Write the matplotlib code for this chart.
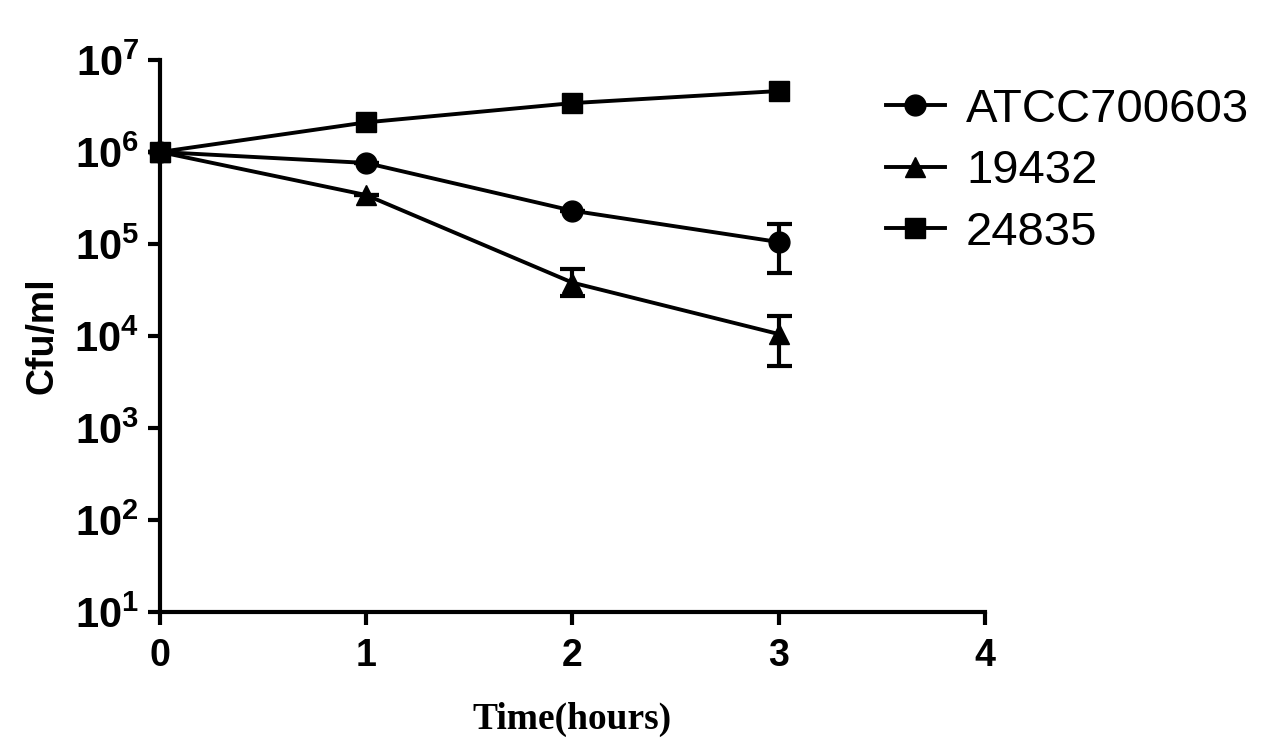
import math
import matplotlib
matplotlib.use('Agg')
import matplotlib.pyplot as plt
from matplotlib.ticker import FixedLocator, FuncFormatter, NullLocator

plt.rcParams['font.family'] = ['Liberation Sans', 'DejaVu Sans']
plt.rcParams['mathtext.fontset'] = 'custom'
plt.rcParams['mathtext.rm'] = 'Liberation Sans:bold'
plt.rcParams['mathtext.bf'] = 'Liberation Sans:bold'

tiempo = [0, 1, 2, 3]

atcc = [1.0e6, 7.6e5, 2.3e5, 1.05e5]
atcc_err_bajo = [0, 0, 0, 5.6e4]
atcc_err_alto = [0, 0, 0, 6.0e4]

cepa_19432 = [1.0e6, 3.4e5, 3.8e4, 1.05e4]
cepa_19432_err_bajo = [0, 0, 1.1e4, 5.8e3]
cepa_19432_err_alto = [0, 0, 1.5e4, 6.0e3]

cepa_24835 = [1.0e6, 2.1e6, 3.4e6, 4.6e6]

etiquetas = ['ATCC700603', '19432', '24835']

fig = plt.figure(figsize=(12.67, 7.49), dpi=100)
ax = fig.add_axes([0.1263, 0.1829, 0.6511, 0.737])

estilo = dict(color='black', linewidth=2.8, markersize=15, elinewidth=3,
              capsize=9, capthick=3, clip_on=False)

e1 = ax.errorbar(tiempo, atcc, yerr=[atcc_err_bajo, atcc_err_alto],
                 marker='o', **estilo)
e2 = ax.errorbar(tiempo, cepa_19432, yerr=[cepa_19432_err_bajo, cepa_19432_err_alto],
                 marker='^', **estilo)
e3 = ax.errorbar(tiempo, cepa_24835, marker='s', **estilo)

ax.set_yscale('log')
ax.set_ylim(10, 1e7)
ax.set_xlim(0, 4)
ax.yaxis.set_major_locator(FixedLocator([10**k for k in range(1, 8)]))
ax.yaxis.set_minor_locator(NullLocator())
ax.yaxis.set_major_formatter(FuncFormatter(lambda v, p: r'$\mathbf{10^{%d}}$' % round(math.log10(v))))
ax.set_xticks([0, 1, 2, 3, 4])

for lado in ['top', 'right']:
    ax.spines[lado].set_visible(False)
for lado in ['left', 'bottom']:
    ax.spines[lado].set_linewidth(3)

ax.tick_params(axis='both', direction='out', length=9, width=3)
ax.tick_params(axis='x', labelsize=27, pad=10)
ax.tick_params(axis='y', labelsize=30, pad=6)
for t in ax.get_xticklabels():
    t.set_fontweight('bold')

ax.set_ylabel('Cfu/ml', fontsize=27, fontweight='bold', labelpad=10)
ax.set_xlabel('Time(hours)', fontsize=27, fontweight='bold',
              family='Liberation Serif', labelpad=20)

fig.legend([e1[0], e2[0], e3[0]], etiquetas, loc='upper left',
           bbox_to_anchor=(0.699, 0.883), frameon=False, borderpad=0,
           borderaxespad=0, fontsize=34, handlelength=1.25,
           handletextpad=0.45, labelspacing=0.37)

fig.savefig('out.png', dpi=100)
